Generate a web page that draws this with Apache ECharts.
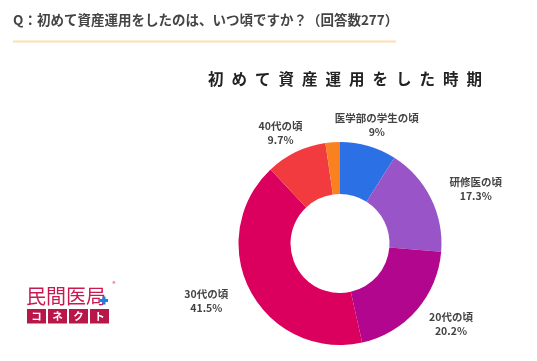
<!DOCTYPE html>
<html>
<head>
<meta charset="utf-8">
<script src="https://cdn.jsdelivr.net/npm/echarts@6/dist/echarts.min.js"></script>
<style>
html,body{margin:0;padding:0;background:#fff;}
#chart{width:537px;height:361px;}
</style>
</head>
<body>
<div id="chart"></div>
<script>
// ---- data ----
const categories = ['医学部の学生の頃', '研修医の頃', '20代の頃', '30代の頃', '40代の頃', '50代以降'];
const values = [9, 17.3, 20.2, 41.5, 9.7, 2.3];
const showLabel = [true, true, true, true, true, false];
const colors = ['#2b70e4', '#9955c8', '#b3068f', '#dc005e', '#f23b3f', '#f98120'];
const question = 'Q：初めて資産運用をしたのは、いつ頃ですか？（回答数277）';
const chartTitle = '初めて資産運用をした時期';
const logoTop = '民間医局';
const logoBoxes = ['コ', 'ネ', 'ク', 'ト'];

const FONT = '"Noto Sans CJK JP", "Noto Sans", sans-serif';
const CX = 340, CY = 243.5, R_IN = 49.5, R_OUT = 101.5;
const total = values.reduce((a, b) => a + b, 0);

const chart = echarts.init(document.getElementById('chart'), null, {renderer: 'canvas'});

const graphics = [];
// question header
graphics.push({
  type: 'text', left: 13, top: 13,
  style: {text: question, fontSize: 13.5, fontWeight: 'bold', fill: '#444', fontFamily: FONT}
});
graphics.push({
  type: 'rect', shape: {x: 13, y: 40.5, width: 383, height: 2},
  style: {fill: '#fde0aa'}
});
// spaced title
const chars = chartTitle.split('');
const pitch = 23.5, startX = 208;
chars.forEach((ch, i) => {
  graphics.push({
    type: 'text', x: startX + i * pitch, y: 79,
    style: {text: ch, fontSize: 15.5, fontWeight: 'bold', fill: '#222', fontFamily: FONT,
            align: 'left', verticalAlign: 'middle'}
  });
});
// logo
graphics.push({
  type: 'text', x: 26, y: 296,
  style: {text: logoTop, fontSize: 20, fontWeight: 'normal', fill: '#c81a4f', fontFamily: FONT,
          verticalAlign: 'middle', align: 'left'}
});
graphics.push({
  type: 'text', x: 114, y: 284,
  style: {text: '®', fontSize: 6, fill: '#c81a4f', fontFamily: FONT, align: 'center', verticalAlign: 'middle'}
});
graphics.push({type: 'rect', shape: {x: 102.5, y: 296.5, width: 3, height: 8}, style: {fill: '#1e7fe0'}});
graphics.push({type: 'rect', shape: {x: 100, y: 299, width: 8, height: 3}, style: {fill: '#1e7fe0'}});
logoBoxes.forEach((ch, i) => {
  const bx = 27 + i * 21;
  graphics.push({type: 'rect', shape: {x: bx, y: 309, width: 19, height: 14.5}, style: {fill: '#b8174a'}});
  graphics.push({
    type: 'text', x: bx + 9.5, y: 316.3,
    style: {text: ch, fontSize: 10.5, fontWeight: 'bold', fill: '#fff', fontFamily: FONT,
            align: 'center', verticalAlign: 'middle'}
  });
});

const option = {
  animation: false,
  backgroundColor: '#fff',
  graphic: graphics,
  series: [{
    type: 'pie',
    center: [CX, CY],
    radius: [R_IN, R_OUT],
    startAngle: 90,
    clockwise: true,
    avoidLabelOverlap: false,
    silent: true,
    data: categories.map((n, i) => ({
      name: n, value: values[i],
      itemStyle: {color: colors[i]},
      label: {show: showLabel[i]}
    })),
    label: {
      position: 'outside',
      formatter: '{b}\n{c}%',
      fontSize: 10.5,
      fontWeight: 'bold',
      lineHeight: 14,
      color: '#444',
      fontFamily: FONT
    },
    labelLine: {show: false},
    labelLayout: function (p) {
      const idx = p.dataIndex;
      let cum = 0;
      for (let i = 0; i < idx; i++) cum += values[i];
      const mid = (cum + values[idx] / 2) / total * Math.PI * 2;
      const vx = Math.sin(mid), vy = -Math.cos(mid);
      return {
        x: CX + vx * 123 + vx * Math.abs(vx) * 32,
        y: CY + vy * 123,
        align: 'center',
        verticalAlign: 'middle'
      };
    }
  }]
};
chart.setOption(option);
</script>
</body>
</html>
